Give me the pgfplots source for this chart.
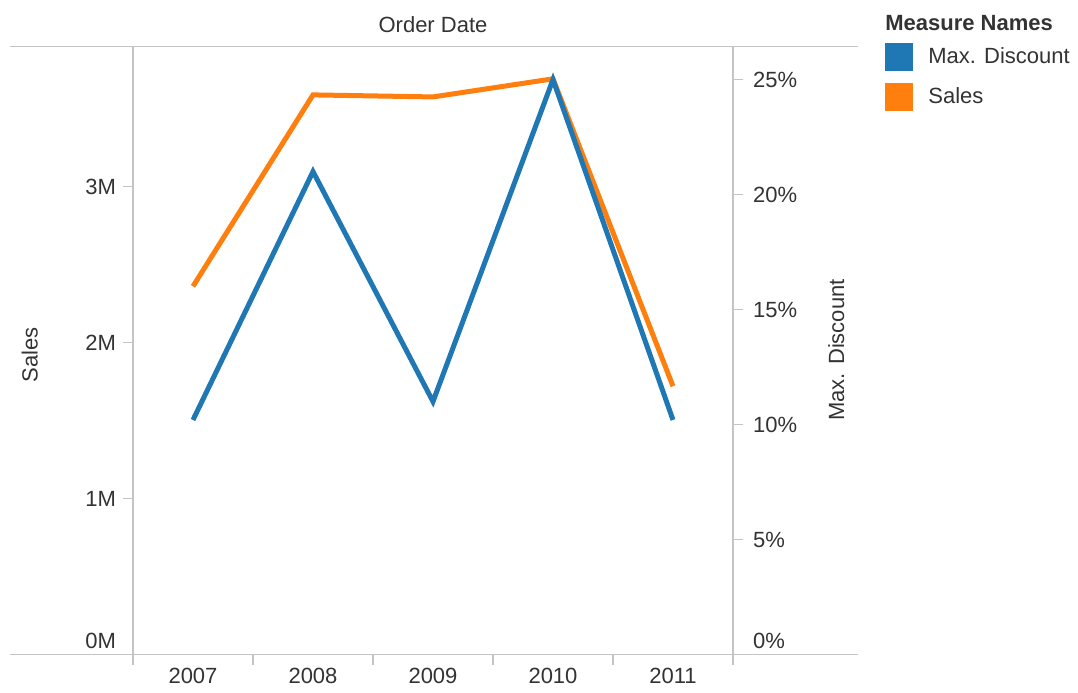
\documentclass[border=0pt]{standalone}
\usepackage{pgfplots}
\pgfplotsset{compat=1.18}
\usepackage{fontspec}
\setmainfont{Liberation Sans}

\definecolor{tblue}{HTML}{1F77B4}
\definecolor{torange}{HTML}{FF7F0E}
\definecolor{txt}{HTML}{333333}
\definecolor{rulegray}{HTML}{C4C4C4}

% 1 px of the reference = 0.5pt
\pgfplotsset{
  dualbase/.style={
    scale only axis, width=300pt, height=303.9pt,
    at={(66.5pt,18.75pt)}, anchor=south west,
    xmin=-0.5, xmax=4.5,
    clip=false,
    /pgf/number format/assume math mode=true,
    tick label style={text=txt},
    label style={text=txt},
    axis line style={rulegray, line width=0.75pt},
    tick style={rulegray, line width=0.75pt},
    major tick length=5pt, minor tick length=5pt,
    tick align=outside,
  },
}

\begin{document}
\begin{tikzpicture}[font=\fontsize{11}{13}\selectfont]
\useasboundingbox (0,0) rectangle (539pt,346pt);

% Sales, left axis
\begin{axis}[dualbase,
  axis y line*=left, axis x line*=bottom,
  ymin=0, ymax=3.896e6,
  scaled y ticks=false,
  ytick={1e6,2e6,3e6}, yticklabels={1M,2M,3M},
  extra y ticks={0}, extra y tick labels={0M},
  extra y tick style={yticklabel style={yshift=7pt}},
  xtick={0,1,2,3,4}, xticklabels={2007,2008,2009,2010,2011},
  xticklabel style={yshift=1.5pt},
  major x tick style={draw=none},
  minor xtick={-0.5,0.5,1.5,2.5,3.5,4.5},
  ylabel={Sales},
  ylabel style={at={(axis description cs:-0.172,0.493)}, anchor=center},
]
  \addplot[torange, line width=2.5pt]
    coordinates {(0,2.36e6)(1,3.587e6)(2,3.574e6)(3,3.69e6)(4,1.72e6)};
  \draw[rulegray, line width=0.75pt] (rel axis cs:-0.205,0) -- (rel axis cs:1.208,0);
  \draw[rulegray, line width=0.75pt] (rel axis cs:-0.205,1) -- (rel axis cs:1.208,1);
  \node[text=txt] at (axis description cs:0.5,1.037) {Order Date};
\end{axis}

% Max. Discount, right axis
\begin{axis}[dualbase,
  axis y line*=right, axis x line=none,
  ymin=0, ymax=26.43,
  ytick={5,10,15,20,25}, yticklabels={5\%,10\%,15\%,20\%,25\%},
  yticklabel style={xshift=1.5pt},
  extra y ticks={0}, extra y tick labels={0\%},
  extra y tick style={yticklabel style={yshift=7pt}},
  ylabel={Max. Discount},
  ylabel style={at={(axis description cs:1.172,0.501)}, anchor=center, rotate=0},
  legend style={at={(axis description cs:1.2533,1.0061)}, anchor=north west,
    draw=none, fill=none, inner sep=0pt, row sep=6pt, column sep=7.5pt,
    nodes={inner sep=0pt, text=txt}, cells={anchor=west}},
  legend image code/.code={\path[#1, draw=none, fill] (0pt,-7pt) rectangle (14pt,7pt);},
]
  \addplot[tblue, line width=2.5pt]
    coordinates {(0,10.2)(1,21.0)(2,11.0)(3,25.0)(4,10.2)};
  \addlegendentry{Max. Discount}
  \addlegendimage{torange, line width=2.5pt}
  \addlegendentry{Sales}
  \node[text=txt, anchor=west, inner sep=0pt, font=\fontsize{11}{13}\selectfont\bfseries]
    at (axis description cs:1.2533,1.039) {Measure Names};
\end{axis}
\end{tikzpicture}
\end{document}
